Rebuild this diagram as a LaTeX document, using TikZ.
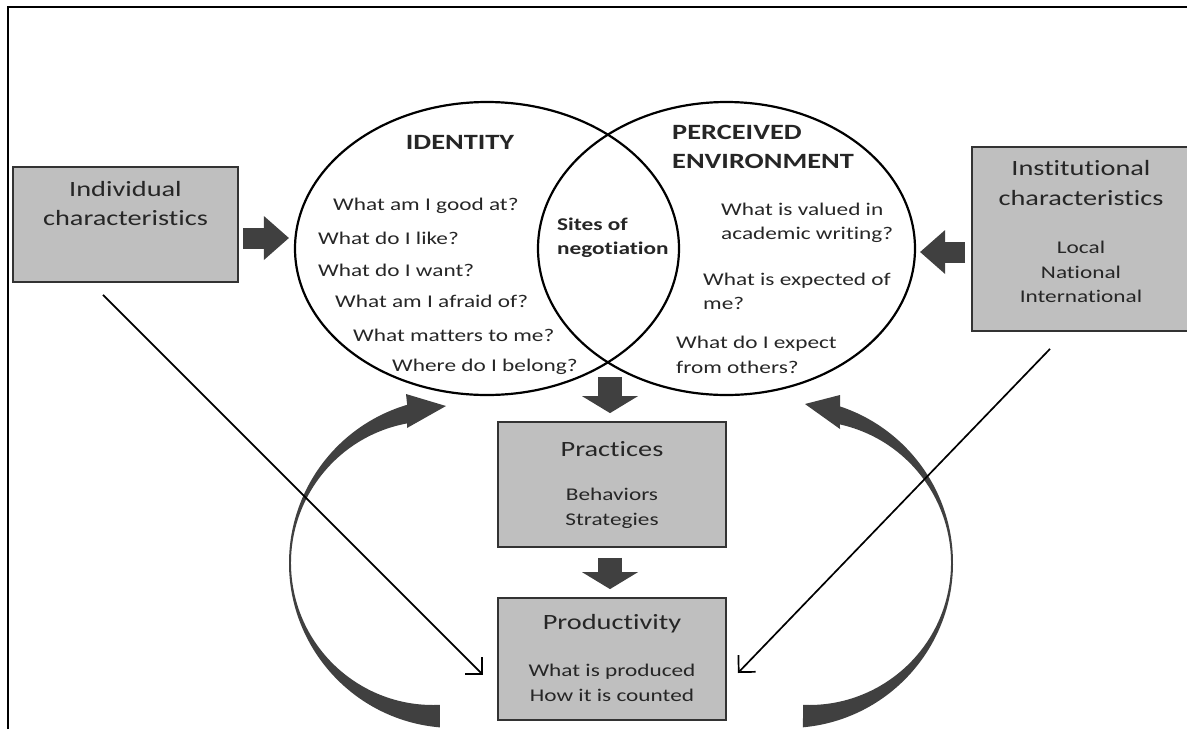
\documentclass[tikz,border=0pt]{standalone}
\usepackage{fontspec}
\setmainfont{Carlito}[FakeStretch=1.3,Ligatures=NoCommon]
\usetikzlibrary{shapes.geometric,arrows.meta,calc}
\newcommand\titlefont{\fontsize{21.8}{29.5}\selectfont}
\newcommand\bodyfont{\fontsize{17.9}{24.5}\selectfont}
\begin{document}
\begin{tikzpicture}
  [x=1pt,y=-1pt,every node/.style={inner sep=0pt,text=black!85},
   charbox/.style={rectangle,draw=black!80,line width=1.8pt,fill=gray!50},
   venn/.style={ellipse,draw=black,line width=2.2pt},
   fatside/.style={line width=21pt,draw=black!75,-{Triangle[length=25pt,width=44pt,line width=0pt 0 0]}},
   fatdown/.style={line width=24pt,draw=black!75,-{Triangle[length=17pt,width=56pt,line width=0pt 0 0]}},
   thinarrow/.style={line width=1.7pt,-{Straight Barb[length=12pt,width=24pt]}},
   curl/.style={fill=black!75}]
  \useasboundingbox (0,0) rectangle (1187,729);
  \draw[line width=2pt] (8,729) -- (8,7) -- (1187,7);

  \node[venn,minimum width=384pt,minimum height=293pt] (identity) at (487,248.5) {};
  \node[venn,minimum width=377pt,minimum height=293pt] (environment) at (726.5,248.5) {};

  \node[charbox,minimum width=225pt,minimum height=115pt] (indiv) at (125.5,224.5) {};
  \node[charbox,minimum width=218pt,minimum height=184pt] (inst) at (1081,239) {};
  \node[charbox,minimum width=228pt,minimum height=125pt] (practices) at (612,484.5) {};
  \node[charbox,minimum width=228pt,minimum height=122pt] (productivity) at (612,659) {};

  \node[font=\titlefont,align=center] (indivtitle) at (125.5,203.5) {Individual\\characteristics};
  \node[font=\titlefont,align=center] (insttitle) at (1081,183) {Institutional\\characteristics};
  \node[font=\bodyfont,align=center] (instlevels) at (1081,272) {Local\\National\\International};
  \node[font=\titlefont] (practitle) at (612,449) {Practices};
  \node[font=\bodyfont,align=center] (practext) at (612,508.5) {Behaviors\\Strategies};
  \node[font=\titlefont] (prodtitle) at (612,624) {Productivity};
  \node[font=\bodyfont,align=center] (prodtext) at (612,683) {What is produced\\How it is counted};

  \node[font=\titlefont\bfseries] (idtitle) at (460,142) {IDENTITY};
  \node[font=\titlefont\bfseries,align=left,anchor=west] (envtitle) at (672,147) {PERCEIVED\\ENVIRONMENT};
  \node[font=\bodyfont\bfseries,align=left,anchor=west] (sites) at (557,237.5) {Sites of\\negotiation};

  \foreach \q/\x/\y [count=\i] in {What am I good at?/333/206,What do I like?/318/238,
    What do I want?/318/270,What am I afraid of?/335/301,What matters to me?/353/335,
    Where do I belong?/392/367}
    \node[font=\bodyfont,anchor=west] (ask\i) at (\x,\y) {\q};
  \foreach \q/\x/\y [count=\i] in {What is valued in\\academic writing?/721/223,
    What is expected of\\me?/703/291.5,What do I expect\\from others?/676/355}
    \node[font=\bodyfont,align=left,anchor=west] (env\i) at (\x,\y) {\q};

  \draw[fatside] ($(indiv.east)+(4,13.5)$) -- ($(identity.west)+(-5,-10.5)$);
  \draw[fatside] ($(inst.west)+(-6,13)$) -- ($(environment.east)+(4,3.5)$);
  \draw[fatdown] ($(practices.north)+(-2,-44)$) -- ($(practices.north)+(-2,-8)$);
  \draw[fatdown] ($(practices.south)+(-2,10)$) -- ($(productivity.north)+(-2,-8)$);

  \fill[curl] ($(454,563)+(94.9:165)$) arc[start angle=94.9,end angle=253.5,radius=165]
    -- (406,394) -- (446,406) -- (407,428) -- ($(433,563)+(259.5:142)$)
    arc[start angle=259.5,end angle=87.2,radius=142] -- cycle;
  \fill[curl] ($(788,563)+(84.8:165)$) arc[start angle=84.8,end angle=-71.6,radius=165]
    -- (840,395) -- (805,404) -- (840,429) -- ($(809,563)+(-77.4:142)$)
    arc[start angle=-77.4,end angle=92.4,radius=142] -- cycle;

  \draw[thinarrow] ($(indiv.south)+(-22.5,12)$) -- ($(productivity.west)+(-14,16)$);
  \draw[thinarrow] ($(inst.south)+(-31,17)$) -- ($(productivity.east)+(11,14)$);
\end{tikzpicture}
\end{document}
